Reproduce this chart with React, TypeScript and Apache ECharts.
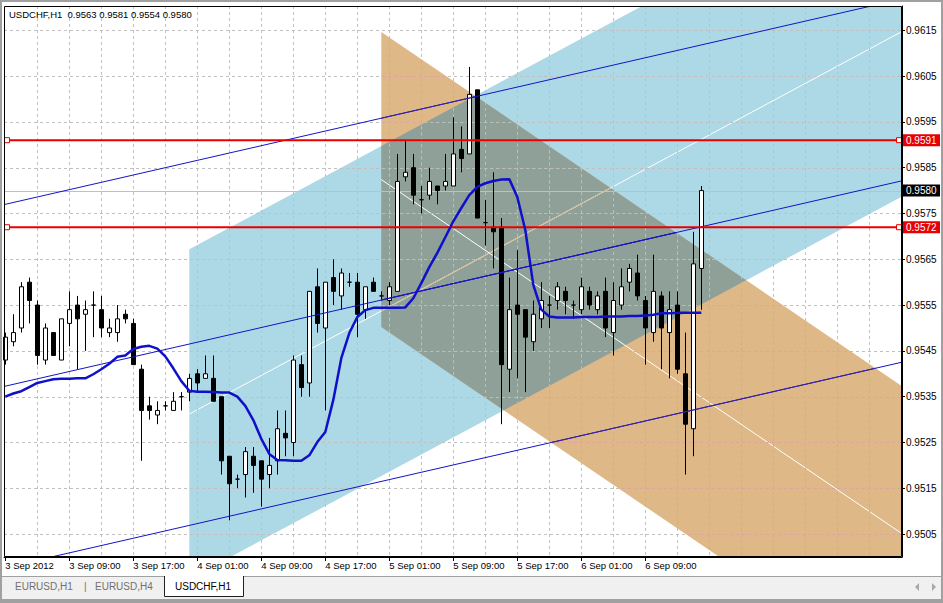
import { useEffect, useRef } from 'react';
import * as echarts from 'echarts';

const SYMBOL = 'USDCHF,H1';
const TABS = ['EURUSD,H1', 'EURUSD,H4', 'USDCHF,H1'];

const timeLabels = ['3 Sep 2012', '3 Sep 09:00', '3 Sep 17:00', '4 Sep 01:00', '4 Sep 09:00', '4 Sep 17:00', '5 Sep 01:00', '5 Sep 09:00', '5 Sep 17:00', '6 Sep 01:00', '6 Sep 09:00'];
const timeLabelBars = [0, 8, 16, 24, 32, 40, 48, 56, 64, 72, 80];
const gridBars = [4, 8, 12, 16, 20, 24, 28, 32, 36, 40, 44, 48, 52, 56, 60, 64, 68, 72, 76, 80, 84, 88, 92, 96, 100, 104, 108];
const priceTicks = [0.9505, 0.9515, 0.9525, 0.9535, 0.9545, 0.9555, 0.9565, 0.9575, 0.9585, 0.9595, 0.9605, 0.9615];

const opens = [
  0.9543, 0.9547, 0.9550, 0.9560, 0.9555, 0.9543, 0.9549, 0.9543, 0.9551, 0.9555,
  0.9553, 0.9555, 0.9554, 0.9549, 0.9549, 0.9553, 0.9551, 0.9541, 0.9533, 0.9531,
  0.9533, 0.9532, 0.9535, 0.9536, 0.9540, 0.9539, 0.9539, 0.9535, 0.9522, 0.9517,
  0.9518, 0.9522, 0.9521, 0.9518, 0.9521, 0.9527, 0.9525, 0.9542, 0.9538, 0.9559,
  0.9550, 0.9561, 0.9557, 0.9560, 0.9560, 0.9554, 0.9560, 0.9557, 0.9556, 0.9558,
  0.9583, 0.9585, 0.9578, 0.9579, 0.9581, 0.9581, 0.9581, 0.9589, 0.9588, 0.9602,
  0.9573, 0.9572, 0.9572, 0.9541, 0.9555, 0.9554, 0.9547, 0.9552, 0.9555, 0.9556,
  0.9558, 0.9555, 0.9554, 0.9558, 0.9554, 0.9558, 0.9549, 0.9555, 0.9560, 0.9562,
  0.9556, 0.9549, 0.9557, 0.9549, 0.9555, 0.9540, 0.9528, 0.9563,
];
const highs = [
  0.9549, 0.9553, 0.9560, 0.9561, 0.9556, 0.9551, 0.9549, 0.9552, 0.9558, 0.9557,
  0.9556, 0.9558, 0.9557, 0.9552, 0.9555, 0.9554, 0.9552, 0.9542, 0.9535, 0.9534,
  0.9534, 0.9536, 0.9536, 0.9540, 0.9541, 0.9544, 0.9544, 0.9535, 0.9522, 0.9518,
  0.9524, 0.9524, 0.9521, 0.9526, 0.9532, 0.9532, 0.9544, 0.9544, 0.9558, 0.9563,
  0.9560, 0.9565, 0.9563, 0.9562, 0.9562, 0.9559, 0.9561, 0.9558, 0.9560, 0.9588,
  0.9591, 0.9588, 0.9581, 0.9585, 0.9581, 0.9588, 0.9596, 0.9594, 0.9607, 0.9602,
  0.9578, 0.9584, 0.9574, 0.9561, 0.9567, 0.9554, 0.9556, 0.9560, 0.9557, 0.9560,
  0.9559, 0.9556, 0.9561, 0.9559, 0.9558, 0.9561, 0.9560, 0.9563, 0.9564, 0.9566,
  0.9557, 0.9566, 0.9558, 0.9558, 0.9558, 0.9549, 0.9571, 0.9581,
];
const lows = [
  0.9542, 0.9546, 0.9549, 0.9551, 0.9542, 0.9542, 0.9544, 0.9543, 0.9546, 0.9541,
  0.9545, 0.9548, 0.9548, 0.9548, 0.9547, 0.9551, 0.9542, 0.9521, 0.9530, 0.9529,
  0.9532, 0.9532, 0.9532, 0.9534, 0.9536, 0.9539, 0.9534, 0.9518, 0.9508, 0.9515,
  0.9513, 0.9514, 0.9511, 0.9515, 0.9518, 0.9522, 0.9522, 0.9535, 0.9535, 0.9549,
  0.9532, 0.9555, 0.9554, 0.9559, 0.9548, 0.9552, 0.9558, 0.9556, 0.9555, 0.9558,
  0.9582, 0.9577, 0.9575, 0.9578, 0.9577, 0.9580, 0.9581, 0.9584, 0.9588, 0.9574,
  0.9568, 0.9563, 0.9529, 0.9536, 0.9539, 0.9536, 0.9545, 0.9550, 0.9550, 0.9554,
  0.9553, 0.9552, 0.9553, 0.9554, 0.9553, 0.9548, 0.9544, 0.9554, 0.9558, 0.9556,
  0.9542, 0.9547, 0.9541, 0.9539, 0.9540, 0.9518, 0.9522, 0.9554,
];
const closes = [
  0.9548, 0.9549, 0.9559, 0.9556, 0.9544, 0.9550, 0.9544, 0.9552, 0.9554, 0.9552,
  0.9554, 0.9555, 0.9550, 0.9550, 0.9552, 0.9552, 0.9542, 0.9532, 0.9532, 0.9532,
  0.9533, 0.9534, 0.9535, 0.9539, 0.9538, 0.9540, 0.9534, 0.9521, 0.9516, 0.9517,
  0.9523, 0.9520, 0.9517, 0.9520, 0.9528, 0.9526, 0.9543, 0.9537, 0.9558, 0.9551,
  0.9560, 0.9558, 0.9562, 0.9560, 0.9553, 0.9559, 0.9558, 0.9557, 0.9559, 0.9582,
  0.9584, 0.9579, 0.9578, 0.9582, 0.9580, 0.9582, 0.9588, 0.9587, 0.9601, 0.9574,
  0.9573, 0.9571, 0.9542, 0.9554, 0.9553, 0.9548, 0.9553, 0.9556, 0.9555, 0.9559,
  0.9556, 0.9555, 0.9559, 0.9555, 0.9557, 0.9550, 0.9556, 0.9559, 0.9563, 0.9557,
  0.9550, 0.9558, 0.9550, 0.9554, 0.9541, 0.9529, 0.9564, 0.9580,
];
const maValues = [
  0.95350, 0.95357, 0.95362, 0.95371, 0.95380, 0.95384, 0.95388, 0.95389, 0.95389, 0.95390,
  0.95390, 0.95399, 0.95410, 0.95422, 0.95437, 0.95440, 0.95454, 0.95459, 0.95461, 0.95455,
  0.95438, 0.95412, 0.95384, 0.95363, 0.95361, 0.95361, 0.95360, 0.95359, 0.95359, 0.95350,
  0.95330, 0.95299, 0.95258, 0.95225, 0.95212, 0.95211, 0.95210, 0.95210, 0.95222, 0.95251,
  0.95273, 0.95343, 0.95434, 0.95489, 0.95524, 0.95539, 0.95544, 0.95544, 0.95544, 0.95544,
  0.95545, 0.95565, 0.95598, 0.95633, 0.95664, 0.95698, 0.95733, 0.95762, 0.95790, 0.95808,
  0.95816, 0.95821, 0.95824, 0.95825, 0.95786, 0.95714, 0.95594, 0.95540, 0.95525, 0.95523,
  0.95523, 0.95523, 0.95524, 0.95524, 0.95524, 0.95525, 0.95525, 0.95525, 0.95526, 0.95526,
  0.95527, 0.95529, 0.95532, 0.95532, 0.95533, 0.95533, 0.95533, 0.95533,
];

const stdDevUpper = [[0, 0.9577], [100, 0.9617]];
const stdDevMiddle = [[0, 0.95373], [100, 0.95773]];
const stdDevLower = [[0, 0.94977], [100, 0.95377]];
const blueChannelTop = [[23, 0.95672], [112, 0.96507]];
const blueChannelBottom = [[23, 0.94952], [112, 0.95786]];
const tanChannelTop = [[47, 0.96146], [112, 0.95374]];
const tanChannelBottom = [[47, 0.95502], [112, 0.9473]];
const redLevels = [0.9591, 0.9572];

const X_MIN = -0.1625;
const X_MAX = 112.0875;
const Y_MIN = 0.95;
const Y_MAX = 0.96203;

const FONT = '"Liberation Sans", Arial, sans-serif';
const FS = 9.5;
const FSY = 10;
const BLUE_FILL = '#add8e6';
const TAN_FILL = '#deb887';
const GRAY_FILL = '#8fa099';
const GRID_COLOR = '#c0c0c0';

type P = number[];

function lineAt(a: P[], x: number) {
  const [x0, y0] = a[0];
  const [x1, y1] = a[1];
  return y0 + ((y1 - y0) * (x - x0)) / (x1 - x0);
}
function signedArea(poly: P[]) {
  let s = 0;
  for (let i = 0; i < poly.length; i++) {
    const a = poly[i];
    const b = poly[(i + 1) % poly.length];
    s += a[0] * b[1] - b[0] * a[1];
  }
  return s / 2;
}
function intersect(p: P, q: P, a: P, b: P): P {
  const den = (p[0] - q[0]) * (a[1] - b[1]) - (p[1] - q[1]) * (a[0] - b[0]);
  const t = ((p[0] - a[0]) * (a[1] - b[1]) - (p[1] - a[1]) * (a[0] - b[0])) / den;
  return [p[0] + t * (q[0] - p[0]), p[1] + t * (q[1] - p[1])];
}
function clipPoly(subject: P[], clip: P[]) {
  const sg = Math.sign(signedArea(clip));
  let out = subject;
  for (let i = 0; i < clip.length; i++) {
    const a = clip[i];
    const b = clip[(i + 1) % clip.length];
    const input = out;
    out = [];
    if (!input.length) break;
    const inside = (p: P) => ((b[0] - a[0]) * (p[1] - a[1]) - (b[1] - a[1]) * (p[0] - a[0])) * sg >= 0;
    for (let j = 0; j < input.length; j++) {
      const cur = input[j];
      const prev = input[(j + input.length - 1) % input.length];
      const ci = inside(cur);
      const pi = inside(prev);
      if (ci) {
        if (!pi) out.push(intersect(prev, cur, a, b));
        out.push(cur);
      } else if (pi) {
        out.push(intersect(prev, cur, a, b));
      }
    }
  }
  return out;
}
function clipSegment(p0: P, p1: P, poly: P[]) {
  if (poly.length < 3) return null;
  const sg = Math.sign(signedArea(poly));
  let t0 = 0;
  let t1 = 1;
  const d = [p1[0] - p0[0], p1[1] - p0[1]];
  for (let i = 0; i < poly.length; i++) {
    const a = poly[i];
    const b = poly[(i + 1) % poly.length];
    const e = [b[0] - a[0], b[1] - a[1]];
    const num = (e[0] * (p0[1] - a[1]) - e[1] * (p0[0] - a[0])) * sg;
    const den = (e[0] * d[1] - e[1] * d[0]) * sg;
    if (den === 0) {
      if (num < 0) return null;
      continue;
    }
    const t = -num / den;
    if (den > 0) t0 = Math.max(t0, t);
    else t1 = Math.min(t1, t);
    if (t0 >= t1) return null;
  }
  return [
    [p0[0] + d[0] * t0, p0[1] + d[1] * t0],
    [p0[0] + d[0] * t1, p0[1] + d[1] * t1],
  ];
}

const X_END = X_MAX + 2;
function channelPoly(top: P[], bottom: P[]): P[] {
  const x0 = top[0][0];
  return [
    [x0, lineAt(top, x0)],
    [X_END, lineAt(top, X_END)],
    [X_END, lineAt(bottom, X_END)],
    [x0, lineAt(bottom, x0)],
  ];
}
function midLine(top: P[], bottom: P[]): P[] {
  const x0 = top[0][0];
  return [
    [x0, (lineAt(top, x0) + lineAt(bottom, x0)) / 2],
    [X_END, (lineAt(top, X_END) + lineAt(bottom, X_END)) / 2],
  ];
}

function seg(p: P, q: P, stroke: string, lineWidth = 1, lineDash?: number[], lineDashOffset = 0) {
  return {
    type: 'line',
    shape: { x1: p[0], y1: p[1], x2: q[0], y2: q[1] },
    style: { stroke, lineWidth, lineDash, lineDashOffset },
    silent: true,
  };
}

function shapes(api: any) {
  const bluePoly = channelPoly(blueChannelTop, blueChannelBottom).map((p) => api.coord(p));
  const tanPoly = channelPoly(tanChannelTop, tanChannelBottom).map((p) => api.coord(p));
  const overlap = clipPoly(bluePoly, tanPoly);
  return { bluePoly, tanPoly, overlap };
}

// draws a segment, then re-tints the parts of it that lie inside given regions
function tinted(children: any[], p: P, q: P, base: string, regions: { poly: P[]; color: string }[], width = 1, dash?: number[]) {
  children.push(seg(p, q, base, width, dash));
  regions.forEach(({ poly, color }) => {
    const s = clipSegment(p, q, poly);
    if (s) {
      const off = dash ? Math.hypot(s[0][0] - p[0], s[0][1] - p[1]) : 0;
      children.push(seg(s[0], s[1], color, width, dash, off));
    }
  });
}

function renderFills(params: any, api: any) {
  const { bluePoly, tanPoly, overlap } = shapes(api);
  const blueMid = midLine(blueChannelTop, blueChannelBottom).map((p) => api.coord(p));
  const tanMid = midLine(tanChannelTop, tanChannelBottom).map((p) => api.coord(p));
  const children: any[] = [
    { type: 'polygon', shape: { points: bluePoly }, style: { fill: BLUE_FILL } },
    { type: 'polygon', shape: { points: tanPoly }, style: { fill: TAN_FILL } },
  ];
  if (overlap.length > 2) {
    children.push({ type: 'polygon', shape: { points: overlap }, style: { fill: GRAY_FILL } });
  }
  tinted(children, blueMid[0], blueMid[1], '#ffffff', [{ poly: overlap, color: '#d9b98c' }]);
  children.push(seg(tanMid[0], tanMid[1], '#ffffff', 1));
  return { type: 'group', children };
}

function renderGrid(params: any, api: any) {
  const cs = params.coordSys;
  const { tanPoly, overlap } = shapes(api);
  const regions = [
    { poly: tanPoly, color: '#e3a39a' },
    { poly: overlap, color: '#b4c0bb' },
  ];
  const children: any[] = [];
  priceTicks.forEach((v) => {
    const y = Math.round(api.coord([0, v])[1]) + 0.5;
    tinted(children, [cs.x, y], [cs.x + cs.width, y], GRID_COLOR, regions, 1, [3, 3]);
  });
  gridBars.forEach((b) => {
    const x = Math.round(api.coord([b, Y_MIN])[0]) + 0.5;
    tinted(children, [x, cs.y], [x, cs.y + cs.height], GRID_COLOR, regions, 1, [3, 3]);
  });
  const yb = Math.round(api.coord([0, closes[closes.length - 1]])[1]) + 0.5;
  children.push(seg([cs.x, yb], [cs.x + cs.width, yb], GRID_COLOR, 1));
  return { type: 'group', children };
}

function renderLines(params: any, api: any) {
  const cs = params.coordSys;
  const { tanPoly, overlap } = shapes(api);
  const children: any[] = [];
  [stdDevUpper, stdDevMiddle, stdDevLower].forEach((ln) => {
    const p = api.coord([X_MIN, lineAt(ln, X_MIN)]);
    const q = api.coord([X_MAX, lineAt(ln, X_MAX)]);
    tinted(children, p, q, '#1414c8', [
      { poly: tanPoly, color: '#3a22a0' },
      { poly: overlap, color: '#1414c8' },
    ]);
  });
  redLevels.forEach((v) => {
    const y = api.coord([0, v])[1];
    children.push(seg([cs.x, y], [cs.x + cs.width, y], '#e80000', 2));
    [cs.x + 3, cs.x + cs.width - 3].forEach((x) => {
      children.push({
        type: 'rect',
        shape: { x: x - 2.5, y: y - 2.5, width: 5, height: 5 },
        style: { fill: '#ffffff', stroke: '#e80000', lineWidth: 1 },
      });
    });
  });
  return { type: 'group', children };
}

function renderTags(params: any, api: any) {
  const cs = params.coordSys;
  const x = cs.x + cs.width + 1;
  const children: any[] = [];
  const tag = (v: number, fill: string) => {
    const y = api.coord([0, v])[1];
    children.push({ type: 'rect', shape: { x, y: y - 6, width: 37, height: 12 }, style: { fill } });
    children.push({
      type: 'text',
      style: { text: v.toFixed(4), x: x + 3, y, fill: '#ffffff', font: `${FSY}px ${FONT}`, verticalAlign: 'middle' },
    });
  };
  redLevels.forEach((v) => tag(v, '#e80000'));
  tag(closes[closes.length - 1], '#000000');
  return { type: 'group', children };
}

export default function App() {
  const ref = useRef<HTMLDivElement>(null);
  useEffect(() => {
    document.body.style.margin = '0';
    if (!ref.current) return;
    const chart = echarts.init(ref.current, undefined, { renderer: 'svg' });
    const last = opens.length - 1;
    const title = `${SYMBOL}  ${opens[last].toFixed(4)} ${highs[last].toFixed(4)} ${lows[last].toFixed(4)} ${closes[last].toFixed(4)}`;
    const one = [[0, 0.955]];
    const grayTxt = '#707070';
    const option: any = {
      animation: false,
      backgroundColor: '#ffffff',
      textStyle: { fontFamily: FONT },
      grid: { left: 4, right: 41, top: 6, bottom: 46, show: false },
      xAxis: {
        type: 'value',
        min: X_MIN,
        max: X_MAX,
        axisLine: { show: true, onZero: false, lineStyle: { color: '#000', width: 1 } },
        axisTick: { show: true, customValues: timeLabelBars, length: 4, lineStyle: { color: '#000' } },
        axisLabel: {
          customValues: timeLabelBars,
          formatter: (v: number) => timeLabels[timeLabelBars.indexOf(Math.round(v))] || '',
          align: 'left',
          margin: 3,
          color: '#000',
          fontSize: FS,
          fontFamily: FONT,
        },
        splitLine: { show: false },
      },
      yAxis: {
        type: 'value',
        position: 'right',
        min: Y_MIN,
        max: Y_MAX,
        axisLine: { show: true, onZero: false, lineStyle: { color: '#000', width: 1 } },
        axisTick: { show: true, customValues: priceTicks, length: 3, lineStyle: { color: '#000' } },
        axisLabel: {
          customValues: priceTicks,
          formatter: (v: number) => v.toFixed(4),
          margin: 4,
          color: '#000',
          fontSize: FSY,
          fontFamily: FONT,
        },
        splitLine: { show: false },
      },
      series: [
        { type: 'custom', name: 'channels', data: one, renderItem: renderFills, clip: true, z: 1, silent: true },
        { type: 'custom', name: 'grid', data: one, renderItem: renderGrid, clip: true, z: 2, silent: true },
        {
          type: 'candlestick',
          name: SYMBOL,
          data: opens.map((o, i) => [i, o, closes[i], lows[i], highs[i]]),
          encode: { x: 0, y: [1, 2, 3, 4] },
          barWidth: 5,
          itemStyle: { color: '#ffffff', color0: '#000000', borderColor: '#000000', borderColor0: '#000000', borderWidth: 1 },
          z: 3,
          silent: true,
        },
        { type: 'custom', name: 'lines', data: one, renderItem: renderLines, clip: true, z: 5, silent: true },
        {
          type: 'line',
          name: 'MA',
          data: maValues.map((v, i) => [i, v]),
          showSymbol: false,
          symbol: 'none',
          lineStyle: { color: '#1010c8', width: 2.5 },
          z: 6,
          silent: true,
        },
        { type: 'custom', name: 'tags', data: one, renderItem: renderTags, clip: false, z: 7, silent: true },
      ],
      graphic: [
        { type: 'rect', shape: { x: 4.5, y: 6.5, width: 897, height: 550 }, style: { fill: 'none', stroke: '#000', lineWidth: 1 }, z: 100 },
        { type: 'text', x: 9, y: 9, style: { text: title, fill: '#000', font: `${FS}px ${FONT}` }, z: 100 },
        { type: 'rect', shape: { x: 0, y: 0, width: 943, height: 2 }, style: { fill: '#a0a0a0' }, z: 90 },
        { type: 'rect', shape: { x: 0, y: 0, width: 2, height: 603 }, style: { fill: '#a0a0a0' }, z: 90 },
        { type: 'rect', shape: { x: 941, y: 0, width: 2, height: 603 }, style: { fill: '#a0a0a0' }, z: 90 },
        { type: 'rect', shape: { x: 2, y: 577, width: 939, height: 22 }, style: { fill: '#f0f0f0' }, z: 90 },
        { type: 'rect', shape: { x: 0, y: 599, width: 943, height: 4 }, style: { fill: '#a0a0a0' }, z: 90 },
        { type: 'line', shape: { x1: 2, y1: 576.5, x2: 164, y2: 576.5 }, style: { stroke: '#a0a0a0', lineWidth: 1 }, z: 91 },
        { type: 'line', shape: { x1: 244, y1: 576.5, x2: 941, y2: 576.5 }, style: { stroke: '#a0a0a0', lineWidth: 1 }, z: 91 },
        { type: 'rect', shape: { x: 164, y: 576, width: 80, height: 21 }, style: { fill: '#ffffff' }, z: 91 },
        { type: 'polyline', shape: { points: [[164.5, 576], [164.5, 596.5], [243.5, 596.5], [243.5, 576]] }, style: { stroke: '#202020', lineWidth: 1, fill: 'none' }, z: 92 },
        { type: 'text', x: 15, y: 586, style: { text: TABS[0], fill: grayTxt, font: `10px ${FONT}`, verticalAlign: 'middle' }, z: 93 },
        { type: 'text', x: 84, y: 586, style: { text: '|', fill: grayTxt, font: `10px ${FONT}`, verticalAlign: 'middle' }, z: 93 },
        { type: 'text', x: 95, y: 586, style: { text: TABS[1], fill: grayTxt, font: `10px ${FONT}`, verticalAlign: 'middle' }, z: 93 },
        { type: 'text', x: 175, y: 586, style: { text: TABS[2], fill: '#000', font: `10px ${FONT}`, verticalAlign: 'middle' }, z: 93 },
        { type: 'polygon', shape: { points: [[915, 587], [919, 583], [919, 591]] }, style: { fill: '#a8a8a8' }, z: 93 },
        { type: 'polygon', shape: { points: [[936, 587], [932, 583], [932, 591]] }, style: { fill: '#a8a8a8' }, z: 93 },
      ],
    };
    chart.setOption(option);
    return () => chart.dispose();
  }, []);
  return <div ref={ref} style={{ width: 943, height: 603 }} />;
}
